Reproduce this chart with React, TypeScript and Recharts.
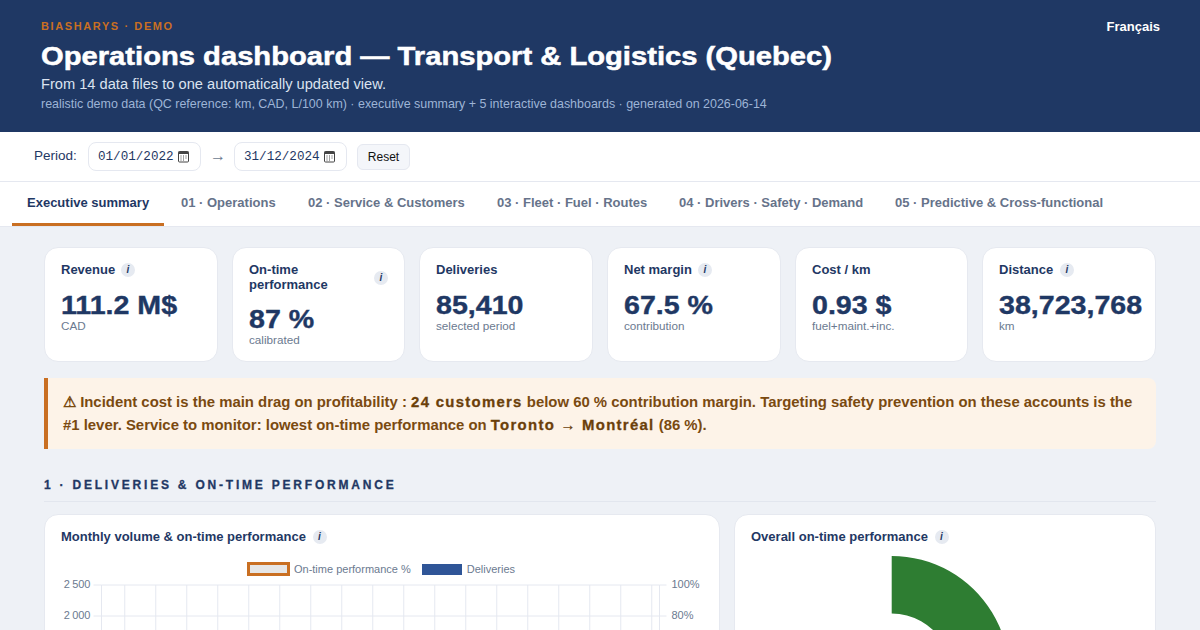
import { CSSProperties } from 'react'
import { Bar, CartesianGrid, Cell, ComposedChart, Legend, Line, Pie, PieChart, XAxis, YAxis } from 'recharts'

const NAVY = '#1f3864'
const ORANGE = '#c96f22'
const BLUE = '#2f5597'
const GREEN = '#2e7d32'
const GRID = '#e5e8f0'
const MUTED = '#6b7a90'
const FONT = '"Liberation Sans", Arial, sans-serif'

const months = [
  '2022-01', '2022-02', '2022-03', '2022-04', '2022-05', '2022-06', '2022-07', '2022-08', '2022-09', '2022-10', '2022-11', '2022-12',
  '2023-01', '2023-02', '2023-03', '2023-04', '2023-05', '2023-06', '2023-07', '2023-08', '2023-09', '2023-10', '2023-11', '2023-12',
  '2024-01', '2024-02', '2024-03', '2024-04', '2024-05', '2024-06', '2024-07', '2024-08', '2024-09', '2024-10', '2024-11', '2024-12',
]
// The reference is cut at 630px and shows no bar or line point inside the visible plot.
// These monthly values are only bounded by that (under 1750 and under 68 %), they are not read marks.
const deliveries = [
  1320, 1280, 1410, 1450, 1520, 1490, 1380, 1360, 1470, 1540, 1580, 1610,
  1340, 1300, 1430, 1480, 1550, 1510, 1400, 1390, 1500, 1570, 1620, 1650,
  1360, 1330, 1460, 1500, 1590, 1530, 1420, 1410, 1520, 1600, 1640, 1680,
]
const onTime = [
  62, 61, 63, 64, 65, 64, 63, 62, 64, 65, 66, 64,
  62, 62, 63, 65, 66, 65, 63, 63, 65, 66, 66, 65,
  63, 62, 64, 65, 67, 66, 64, 63, 65, 66, 67, 66,
]
const monthTicks = months.filter((_, i) => i % 2 === 1)
// only the ticks that fall above the 630px cut
const deliveryTicks = [2000, 2500]
const percentTicks = [80, 100]
// the gauge sweep is cut by the fold too: 87 comes from the KPI card, the end of the sweep is not visible
const gaugeNames = ['On time', 'Late']
const gaugeValues = [87, 13]

const kpiTitles = [['Revenue'], ['On-time', 'performance'], ['Deliveries'], ['Net margin'], ['Cost / km'], ['Distance']]
const kpiValues = ['111.2 M$', '87 %', '85,410', '67.5 %', '0.93 $', '38,723,768']
const kpiNotes = ['CAD', 'calibrated', 'selected period', 'contribution', 'fuel+maint.+inc.', 'km']
const tabLabels = ['01 · Operations', '02 · Service & Customers', '03 · Fleet · Fuel · Routes', '04 · Drivers · Safety · Demand', '05 · Predictive & Cross-functional']

// page layout, in pixels of the 1200x630 shot
const kpiLeft = [44, 232, 419, 607, 795, 982]
const kpiWidth = [174, 173, 174, 174, 173, 174]
const kpiInfo = [128, 381, 0, 705, 0, 1067]
const tabLeft = [181, 308, 497, 679, 895]

const chartData = months.map((month, i) => ({ month, deliveries: deliveries[i], onTime: onTime[i] }))
const gaugeData = gaugeNames.map((name, i) => ({ name, value: gaugeValues[i] }))

function T({ x, y, size, color, weight, spacing, children, right, family, h, stretch, heavy }: any) {
  const style: CSSProperties = {
    position: 'absolute',
    top: y - (h || 20) / 2,
    height: h || 20,
    lineHeight: `${h || 20}px`,
    fontSize: size,
    color,
    fontWeight: weight || 400,
    letterSpacing: spacing,
    whiteSpace: 'nowrap',
    fontFamily: family || FONT,
  }
  if (right !== undefined) style.right = right
  else style.left = x
  if (stretch) {
    style.transform = `scaleX(${stretch})`
    style.transformOrigin = 'left center'
  }
  if (heavy) style.WebkitTextStroke = `${heavy}px ${color}`
  return <div style={style}>{children}</div>
}

function Info({ cx, cy }: { cx: number; cy: number }) {
  return (
    <div
      style={{
        position: 'absolute', left: cx - 7, top: cy - 7, width: 14, height: 14, borderRadius: 7, background: '#e6eaf1',
        color: NAVY, fontSize: 10, fontStyle: 'italic', fontWeight: 700, lineHeight: '14px', textAlign: 'center', fontFamily: FONT,
      }}
    >
      i
    </div>
  )
}

function DateBox({ left, text }: { left: number; text: string }) {
  return (
    <div style={{ position: 'absolute', left, top: 142, width: 113, height: 29, boxSizing: 'border-box', border: '1px solid #e5e8f0', borderRadius: 8, background: '#fff' }}>
      <T x={9} y={14} size={12.6} color={NAVY} family='"Liberation Mono", monospace'>{text}</T>
      <svg width={13} height={13} viewBox="0 0 13 13" style={{ position: 'absolute', left: 88, top: 7 }}>
        <rect x={1.5} y={1.5} width={10} height={10.5} rx={1} fill="none" stroke="#444" />
        <rect x={1.5} y={1.5} width={10} height={2.5} fill="#444" />
        <path d="M3.5 6h1M6 6h1M8.5 6h1M3.5 8h1M6 8h1M8.5 8h1M3.5 10h1M6 10h1" stroke="#444" />
      </svg>
    </div>
  )
}

function LegendContent({ payload }: any) {
  return (
    <div style={{ display: 'flex', justifyContent: 'center', gap: 11, height: 16, marginTop: 1, position: 'relative', left: -1, fontFamily: FONT, fontSize: 11, color: MUTED, lineHeight: '14px' }}>
      {(payload || []).map((p: any) => {
        const isLine = p.dataKey === 'onTime'
        return (
          <div key={p.dataKey} style={{ display: 'flex', alignItems: 'center' }}>
            <span
              style={{
                display: 'inline-block', width: isLine ? 43 : 40, height: isLine ? 14 : 11, boxSizing: 'border-box', marginRight: isLine ? 4 : 5,
                background: isLine ? '#e6e6e6' : BLUE, border: isLine ? `3px solid ${ORANGE}` : 'none',
              }}
            />
            {p.value}
          </div>
        )
      })}
    </div>
  )
}

const strong = { fontWeight: 800, color: '#6b3f0a', letterSpacing: 1.3, WebkitTextStroke: '0.3px #6b3f0a' }

export default function App() {
  return (
    <div style={{ position: 'absolute', left: 0, top: 0, width: 1200, height: 630, overflow: 'hidden', background: '#eef1f6', fontFamily: FONT }}>
      <div style={{ position: 'absolute', left: 0, top: 0, width: 1200, height: 132, background: NAVY }}>
        <T x={41} y={26} size={11} weight={700} color={ORANGE} spacing={1.6}>BIASHARYS · DEMO</T>
        <T x={41} y={56} size={26} weight={800} color="#fff" h={34} stretch={1.122} heavy={0.5}>Operations dashboard — Transport &amp; Logistics (Quebec)</T>
        <T x={41} y={84} size={14.65} color="#dbe3f0">From 14 data files to one automatically updated view.</T>
        <T x={41} y={104} size={12.46} color="#9db4d6">realistic demo data (QC reference: km, CAD, L/100 km) · executive summary + 5 interactive dashboards · generated on 2026-06-14</T>
        <T right={40} y={27} size={13} weight={700} color="#fff">Français</T>
      </div>

      <div style={{ position: 'absolute', left: 0, top: 132, width: 1200, height: 94, background: '#fff' }} />
      <div style={{ position: 'absolute', left: 0, top: 181, width: 1200, height: 1, background: '#e5e8f0' }} />
      <div style={{ position: 'absolute', left: 0, top: 226, width: 1200, height: 1, background: '#e5e8f0' }} />
      <T x={34} y={156} size={13.5} color={NAVY}>Period:</T>
      <DateBox left={88} text="01/01/2022" />
      <T x={210} y={156} size={16} color="#6b7a90">→</T>
      <DateBox left={234} text="31/12/2024" />
      <div style={{ position: 'absolute', left: 357, top: 144, width: 53, height: 26, boxSizing: 'border-box', border: '1px solid #e5e8f0', borderRadius: 6, background: '#f4f6fa', textAlign: 'center', fontSize: 12, lineHeight: '24px', color: '#111' }}>Reset</div>

      <T x={27} y={203} size={13} weight={700} color={NAVY}>Executive summary</T>
      <div style={{ position: 'absolute', left: 12, top: 223, width: 152, height: 3, background: ORANGE }} />
      {tabLabels.map((label, i) => (
        <T key={label} x={tabLeft[i]} y={203} size={13} weight={700} color="#66738a">{label}</T>
      ))}

      {kpiValues.map((value, i) => {
        const two = kpiTitles[i].length > 1
        const x = kpiLeft[i] + 17
        return (
          <div key={value}>
            <div style={{ position: 'absolute', left: kpiLeft[i], top: 247, width: kpiWidth[i], height: 115, boxSizing: 'border-box', border: '1px solid #e6e9f0', borderRadius: 14, background: '#fff' }} />
            {kpiTitles[i].map((line, j) => (
              <T key={line} x={x} y={270 + j * 15} size={13} weight={700} color={NAVY}>{line}</T>
            ))}
            {kpiInfo[i] > 0 && <Info cx={kpiInfo[i]} cy={two ? 277.5 : 269.5} />}
            <T x={x} y={two ? 319 : 305} size={26} weight={800} color={NAVY} h={32} stretch={1.1} heavy={0.4}>{value}</T>
            <T x={x} y={two ? 340 : 326} size={11.7} color={MUTED}>{kpiNotes[i]}</T>
          </div>
        )
      })}

      <div style={{ position: 'absolute', left: 44, top: 378, width: 1112, height: 71, boxSizing: 'border-box', background: '#fdf3e8', borderLeft: `4px solid ${ORANGE}`, borderRadius: '0 8px 8px 0' }} />
      <T x={63} y={402} size={14.9} weight={700} color="#7a4a10">
        ⚠ Incident cost is the main drag on profitability : <span style={strong}>24 customers</span> below 60 % contribution margin. Targeting safety prevention on these accounts is the
      </T>
      <T x={63} y={425} size={14.9} weight={700} color="#7a4a10">
        #1 lever. Service to monitor: lowest on-time performance on <span style={strong}>Toronto → Montréal</span> (86 %).
      </T>

      <T x={44} y={485} size={12} weight={700} color={NAVY} spacing={2.79} heavy={0.3}>1 · DELIVERIES &amp; ON-TIME PERFORMANCE</T>
      <div style={{ position: 'absolute', left: 44, top: 501, width: 1112, height: 1, background: '#e2e6ee' }} />

      <div style={{ position: 'absolute', left: 44, top: 514, width: 676, height: 320, boxSizing: 'border-box', border: '1px solid #e6e9f0', borderRadius: 14, background: '#fff' }} />
      <T x={61} y={537} size={13} weight={700} color={NAVY}>Monthly volume &amp; on-time performance</T>
      <Info cx={319.5} cy={536.5} />
      <div style={{ position: 'absolute', left: 45, top: 555 }}>
        <ComposedChart width={674} height={235} data={chartData} margin={{ top: 5, right: 0, bottom: 0, left: 0 }}>
          <CartesianGrid yAxisId="left" stroke={GRID} syncWithTicks />
          <XAxis dataKey="month" ticks={monthTicks} interval={0} axisLine={{ stroke: GRID }} tickLine={false} tick={() => <g />} height={50} />
          <YAxis yAxisId="left" width={56.5} domain={[0, 2500]} ticks={deliveryTicks} axisLine={{ stroke: GRID }} tickSize={8} tickMargin={3} tickLine={{ stroke: GRID }} tick={{ fontSize: 11, fill: MUTED, fontFamily: FONT, dy: -1 }} tickFormatter={(v: number) => String(v).replace(/(\d)(\d{3})$/, '$1\u202f$2')} />
          <YAxis yAxisId="right" orientation="right" width={59.5} domain={[0, 100]} ticks={percentTicks} axisLine={{ stroke: GRID }} tickSize={7} tickMargin={5} tickLine={{ stroke: GRID }} tick={{ fontSize: 11, fill: MUTED, fontFamily: FONT, dy: -1 }} tickFormatter={(v: number) => `${v}%`} />
          <Legend verticalAlign="top" height={25} itemSorter={null} content={<LegendContent />} />
          <Line yAxisId="right" dataKey="onTime" name="On-time performance %" stroke={ORANGE} strokeWidth={2} dot={false} isAnimationActive={false} />
          <Bar yAxisId="left" dataKey="deliveries" name="Deliveries" fill={BLUE} isAnimationActive={false} />
        </ComposedChart>
      </div>

      <div style={{ position: 'absolute', left: 734, top: 514, width: 422, height: 320, boxSizing: 'border-box', border: '1px solid #e6e9f0', borderRadius: 14, background: '#fff' }} />
      <T x={751} y={537} size={13} weight={700} color={NAVY}>Overall on-time performance</T>
      <Info cx={941.5} cy={536.5} />
      <div style={{ position: 'absolute', left: 735, top: 540 }}>
        <PieChart width={420} height={300} margin={{ top: 0, right: 0, bottom: 0, left: 0 }}>
          <Pie data={gaugeData} dataKey="value" nameKey="name" cx={156.7} cy={133.5} innerRadius={60} outerRadius={117.5} startAngle={90} endAngle={-180} stroke="none" isAnimationActive={false}>
            <Cell fill={GREEN} />
            <Cell fill="#e5e7eb" />
          </Pie>
        </PieChart>
      </div>
    </div>
  )
}
